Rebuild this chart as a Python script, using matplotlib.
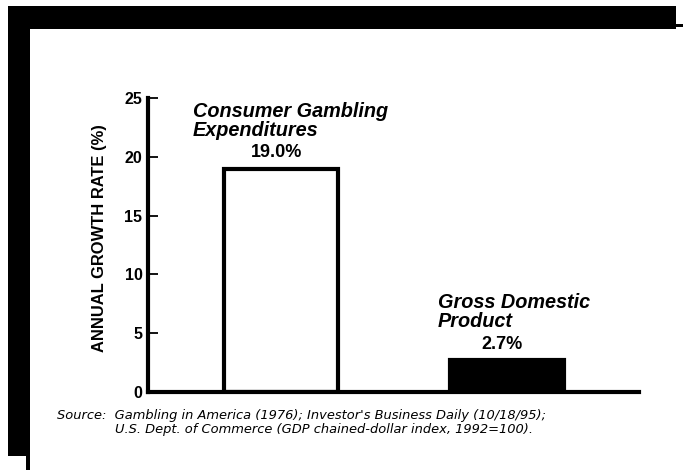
import matplotlib.pyplot as plt
from matplotlib.patches import Rectangle

# growth rates, percent per year
series = ["Consumer Gambling\nExpenditures", "Gross Domestic\nProduct"]
growth = [19.0, 2.7]
fills = ["white", "black"]
yticks = [0, 5, 10, 15, 20, 25]

W, H = 683, 470
fig = plt.figure(figsize=(W / 100, H / 100), dpi=100)

# axes placed in pixel terms: x 148..639, y 98..392 from the top
ax = fig.add_axes([148 / W, (H - 392) / H, (639 - 148) / W, (392 - 98) / H])

x = list(range(len(growth)))
ax.bar(x, growth, width=0.505, color=fills, edgecolor="black", linewidth=3)

ax.set_xlim(-0.588, 1.584)
ax.set_ylim(0, 25)
ax.set_yticks(yticks)
ax.set_xticks([])
for side in ["top", "right"]:
    ax.spines[side].set_visible(False)
for side in ["left", "bottom"]:
    ax.spines[side].set_linewidth(3)
    ax.spines[side].set_capstyle("projecting")
ax.tick_params(axis="y", direction="in", length=7, width=1.3, pad=4)
for lab in ax.get_yticklabels():
    lab.set_fontfamily("Liberation Sans")
    lab.set_fontweight("bold")
    lab.set_fontsize(11.5)

ax.set_ylabel("ANNUAL GROWTH RATE (%)", fontfamily="Liberation Sans",
              fontweight="bold", fontsize=11.9)
ax.yaxis.set_label_coords(-0.083, 0.522)

# series names sit up and to the left of each bar, value just above the bar
name_offsets = [(-0.39, 24.7), (-0.305, 8.45)]
for xi, val, name, (dx, ytop) in zip(x, growth, series, name_offsets):
    ax.text(xi + dx, ytop, name, ha="left", va="top",
            fontfamily="Liberation Sans", fontweight="bold", fontstyle="italic",
            fontsize=14.3, linespacing=1.05)
    ax.annotate(f"{val:.1f}%", (xi - 0.02, val), xytext=(0, 5.5),
                textcoords="offset points", ha="center", va="bottom",
                fontfamily="Liberation Sans", fontweight="bold", fontsize=13)

src1 = "Source:  Gambling in America (1976); Investor's Business Daily (10/18/95);"
src2 = "U.S. Dept. of Commerce (GDP chained-dollar index, 1992=100)."
fig.text(57 / W, 1 - 416 / H, src1, ha="left", va="center",
         fontfamily="DejaVu Sans", fontstyle="italic", fontsize=9.4)
fig.text(115 / W, 1 - 430 / H, src2, ha="left", va="center",
         fontfamily="DejaVu Sans", fontstyle="italic", fontsize=9.4)

# heavy black frame along the top and left edge
def px_rect(x0, y0, x1, y1):
    fig.add_artist(Rectangle((x0 / W, 1 - y1 / H), (x1 - x0) / W, (y1 - y0) / H,
                             transform=fig.transFigure, facecolor="black",
                             edgecolor="none"))

px_rect(8, 6, 676, 29)
px_rect(676, 24, 683, 27)
px_rect(8, 6, 30, 456)
px_rect(26, 456, 30, 470)

fig.savefig("out.png", dpi=100)
